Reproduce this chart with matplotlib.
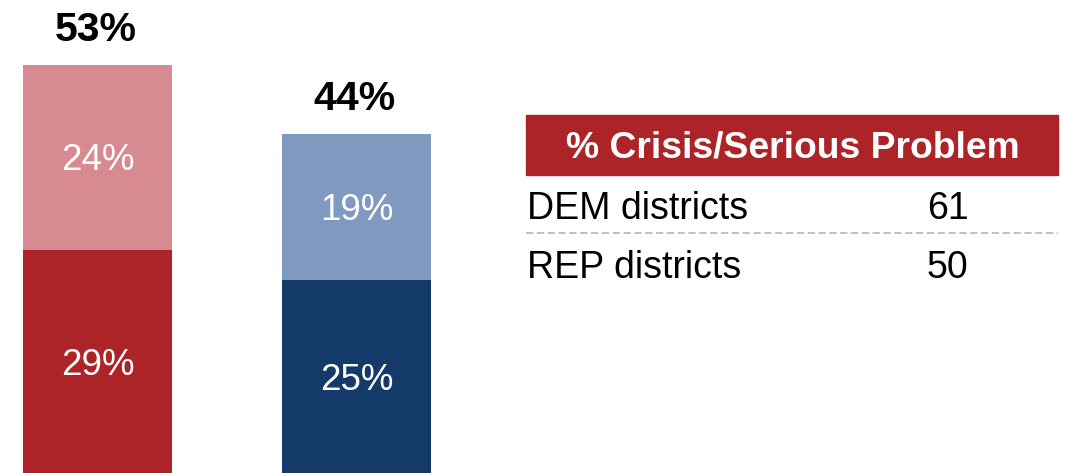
import matplotlib.pyplot as plt
from matplotlib.patches import Rectangle

plt.rcParams["font.family"] = ["Liberation Sans", "DejaVu Sans"]

# Daten: gestapelte Balken (DEM / REP)
gruppen = ["DEM", "REP"]
anteil_crisis = [29, 25]       # untere Segmente
anteil_serious = [24, 19]      # obere Segmente
summen = [53, 44]

farbe_unten = ["#AC2328", "#143A6A"]
farbe_oben = ["#D88A91", "#7F99C0"]

# Tabelle rechts
tabelle_titel = "% Crisis/Serious Problem"
tabelle_zeilen = ["DEM districts", "REP districts"]
tabelle_werte = [61, 50]

fig = plt.figure(figsize=(10.66, 4.73), dpi=100)
ax = fig.add_axes([0, 0, 1, 1])

x = list(range(len(gruppen)))
breite = 0.575
ax.bar(x, anteil_crisis, width=breite, color=farbe_unten)
ax.bar(x, anteil_serious, width=breite, bottom=anteil_crisis, color=farbe_oben)

for i in x:
    ax.annotate(f"{anteil_crisis[i]}%", (i, anteil_crisis[i] / 2), xytext=(0, -4),
                textcoords="offset pixels", ha="center", va="center",
                color="white", fontsize=26.5)
    ax.annotate(f"{anteil_serious[i]}%", (i, anteil_crisis[i] + anteil_serious[i] / 2),
                xytext=(0, -3), textcoords="offset pixels", ha="center", va="center",
                color="white", fontsize=26.5)
    ax.annotate(f"{summen[i]}%", (i, summen[i]), xytext=(-2, 24), textcoords="offset pixels",
                ha="center", va="baseline", fontsize=29.5, fontweight="bold")

ax.set_xlim(-0.376, 3.739)
ax.set_ylim(0, 61.4)
ax.axis("off")

# Tabelle in Pixelkoordinaten
tab = fig.add_axes([0, 0, 1, 1])
tab.set_xlim(0, 1066)
tab.set_ylim(473, 0)
tab.axis("off")
tab.add_patch(Rectangle((526, 115), 532, 60, color="#AC2328"))
tab.text(793, 148, tabelle_titel, ha="center", va="center", color="white",
         fontsize=26.8, fontweight="bold")
for k, (name, wert) in enumerate(zip(tabelle_zeilen, tabelle_werte)):
    y = 219 + k * 59
    tab.text(527, y, name, ha="left", va="baseline", fontsize=27)
    tab.text(927, y, str(wert), ha="left", va="baseline", fontsize=27)
tab.plot([526, 1058], [233, 233], color="#BBBBBB", lw=1.3, ls=(0, (4, 2)))

fig.savefig("out.png", dpi=100)
